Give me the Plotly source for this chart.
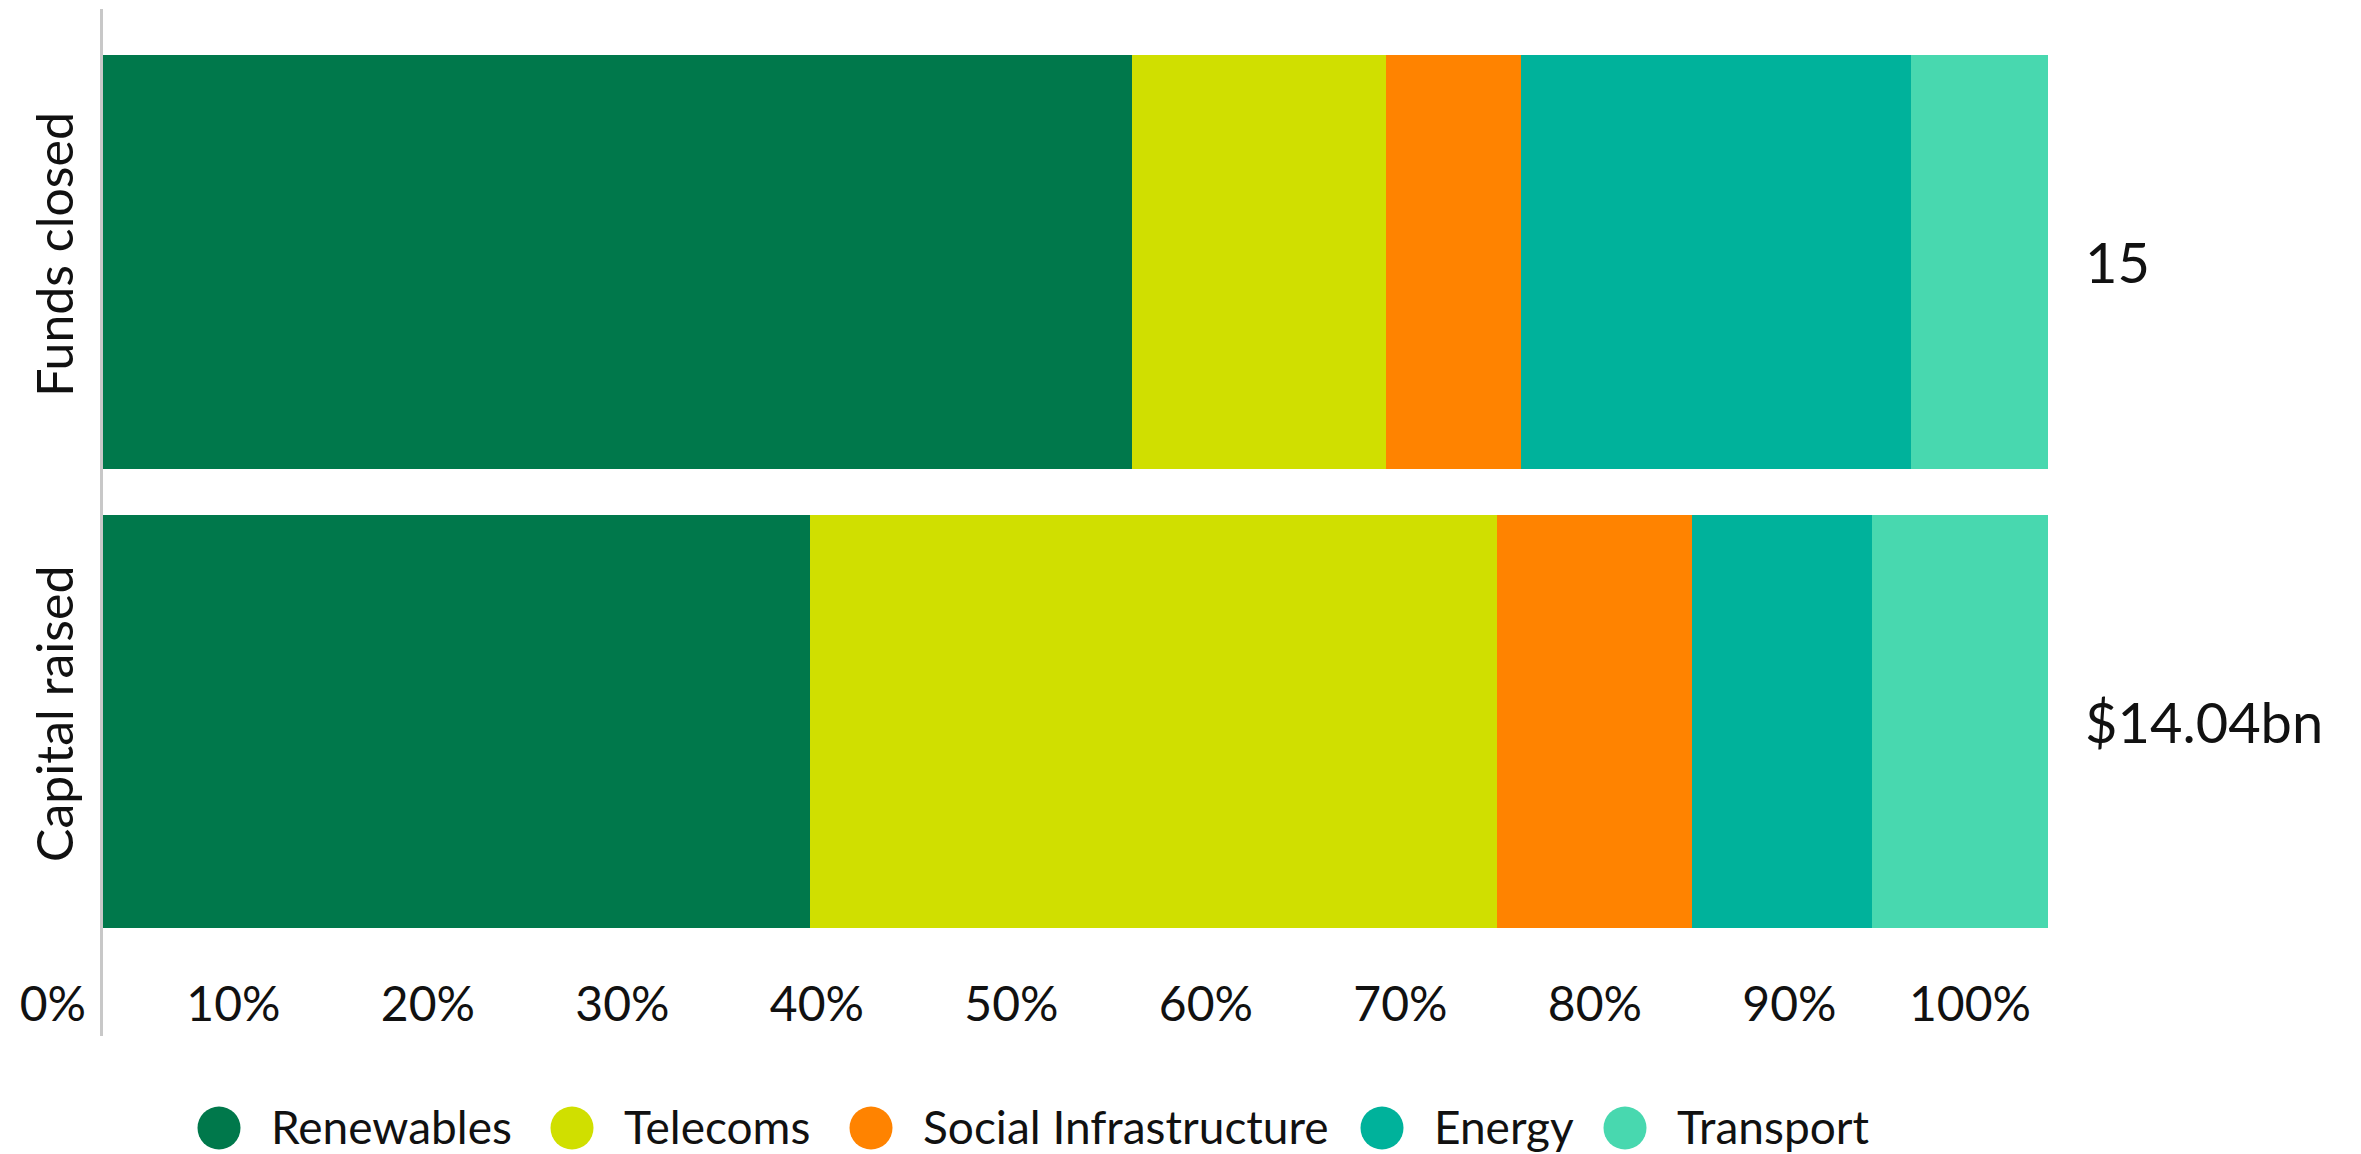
import plotly.graph_objects as go

# ---- data ----
categories = ["Capital raised", "Funds closed"]
sectors = ["Renewables", "Telecoms", "Social Infrastructure", "Energy", "Transport"]
capital_raised_bn = [5.10, 4.96, 1.41, 1.30, 1.27]          # $bn by sector
funds_closed_share = [52.9, 13.06, 6.94, 20.05, 7.05]       # % of funds closed by sector
funds_closed_total = 15
capital_raised_total_bn = 14.04
x_tick_values = [0, 10, 20, 30, 40, 50, 60, 70, 80, 90, 100]

# ---- styles / layout constants ----
colors = ["#00784B", "#D0DF00", "#FF8300", "#00B29B", "#48D8AF"]
W, H = 2361, 1154
FONT = "Lato"
TXT = "#111111"

fig = go.Figure()
for i, s in enumerate(sectors):
    fig.add_trace(go.Bar(
        y=categories,
        x=[capital_raised_bn[i], funds_closed_share[i]],
        orientation="h",
        name=s,
        marker=dict(color=colors[i], line=dict(width=0)),
        showlegend=False,
        hoverinfo="name+x",
    ))

totals = [f"${capital_raised_total_bn:.2f}bn", f"{funds_closed_total}"]

annotations = []
for cat, t in zip(categories, totals):
    annotations.append(dict(
        x=2083 / W, xref="paper", xanchor="left",
        y=cat, yref="y", yanchor="middle",
        text=t, showarrow=False,
        font=dict(family=FONT, size=56, color=TXT),
    ))

# custom legend with large circular markers
legend_cx = [219, 572, 871, 1382, 1625]
legend_cy = 1128
R = 21.5
shapes = []
for cx, s, c in zip(legend_cx, sectors, colors):
    shapes.append(dict(
        type="circle", xref="paper", yref="paper",
        xsizemode="pixel", ysizemode="pixel",
        xanchor=cx / W, yanchor=1 - legend_cy / H,
        x0=-R, x1=R, y0=-R, y1=R,
        fillcolor=c, line=dict(width=0),
    ))
    annotations.append(dict(
        x=(cx + 50) / W, xref="paper", xanchor="left",
        y=1 - 1126 / H, yref="paper", yanchor="middle",
        text=s, showarrow=False,
        font=dict(family=FONT, size=46, color=TXT),
    ))

fig.update_layout(
    width=W, height=H,
    margin=dict(l=0, r=0, t=0, b=0, autoexpand=False),
    paper_bgcolor="white", plot_bgcolor="white",
    barmode="stack", barnorm="percent", bargap=0.1,
    font=dict(family=FONT, color=TXT),
    showlegend=False,
    xaxis=dict(
        domain=[103 / W, 2048 / W],
        range=[0, 100],
        tickvals=x_tick_values,
        ticktext=[f"{v}%" for v in x_tick_values],
        ticklabelposition="outside left",
        ticklabelshift=-17,
        tickfont=dict(family=FONT, size=48, color=TXT),
        showgrid=False, zeroline=False, showline=False, ticks="",
        anchor="free", position=1 - 972 / H,
        automargin=False,
    ),
    yaxis=dict(
        domain=[1 - 1036 / H, 1 - 9 / H],
        type="category",
        categoryorder="array", categoryarray=categories,
        range=[-0.6852, 1.5508],
        showline=True, linecolor="#C8C8C8", linewidth=3,
        showgrid=False, zeroline=False,
        tickangle=-90,
        ticks="",
        ticklabelstandoff=7,
        tickfont=dict(family=FONT, size=50, color=TXT),
        anchor="x",
        automargin=False,
    ),
    annotations=annotations,
    shapes=shapes,
)

fig.write_html("out.html")
